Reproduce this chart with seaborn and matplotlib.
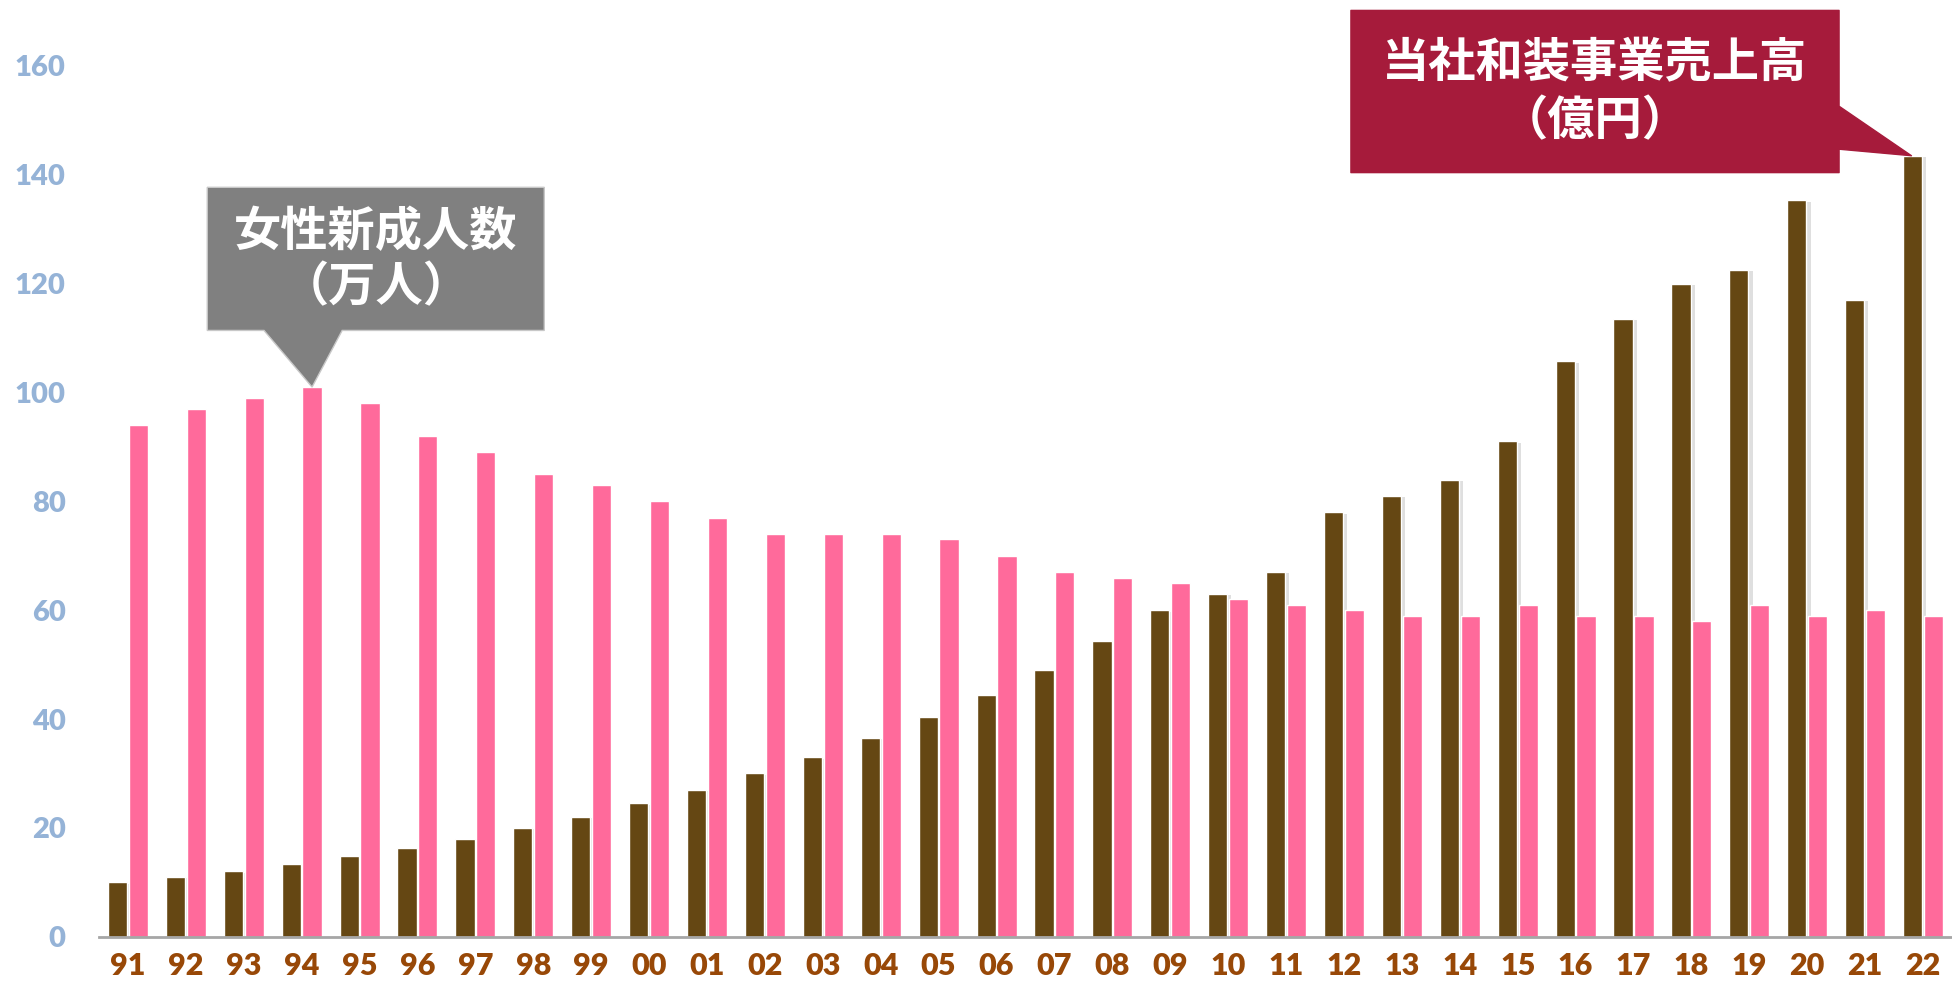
import pandas as pd
import seaborn as sns
import matplotlib.pyplot as plt
import matplotlib.patheffects as pe
from matplotlib.patches import Polygon

# 年度ラベル（1991〜2022）
years = ['91', '92', '93', '94', '95', '96', '97', '98', '99', '00',
         '01', '02', '03', '04', '05', '06', '07', '08', '09', '10',
         '11', '12', '13', '14', '15', '16', '17', '18', '19', '20',
         '21', '22']

# 当社和装事業売上高（億円）
sales = [10, 11, 12, 13.3, 14.8, 16.4, 18, 20, 22, 24.5,
         27, 30, 33, 36.5, 40.3, 44.5, 49, 54.3, 60, 63,
         67, 78, 81, 84, 91, 105.7, 113.5, 120, 122.5, 135.3,
         117, 143.5]

# 女性新成人数（万人）
women = [94, 97, 99, 101, 98, 92, 89, 85, 83, 80,
         77, 74, 74, 74, 73, 70, 67, 66, 65, 62,
         61, 60, 59, 59, 61, 59, 59, 58, 61, 59,
         60, 59]

series = ['sales', 'women']

df = pd.DataFrame({
    'year': years * 2,
    'series': [series[0]] * len(years) + [series[1]] * len(years),
    'value': sales + women,
})

BROWN = '#654713'
PINK = '#FF6A9B'
GREY_BOX = '#808080'
RED_BOX = '#A61B3B'
CJK = ['Noto Sans CJK JP', 'DejaVu Sans']

sns.set_theme(style='white')
plt.rcParams['font.family'] = ['Lato', 'DejaVu Sans']

fig = plt.figure(figsize=(19.52, 9.84), dpi=100)
ax = fig.add_axes([0.0507, 0.048, 0.9493, 0.885])

sns.barplot(data=df, x='year', y='value', hue='series', order=years,
            hue_order=series, palette=[BROWN, PINK], width=0.72, gap=0.08,
            saturation=1, legend=False, ax=ax)

# 茶色の棒に影をつける
for bar in ax.containers[0]:
    bar.set_path_effects([pe.SimplePatchShadow(offset=(3, -1), alpha=0.25,
                                               shadow_rgbFace='#808080'),
                          pe.Normal()])

ax.set_ylim(0, 160)
ax.set_xlim(-0.5, len(years) - 0.5)
ax.set_yticks(range(0, 161, 20))
ax.set_xlabel('')
ax.set_ylabel('')
ax.tick_params(axis='y', length=0, pad=24, labelsize=21, labelcolor='#95B3D7')
ax.tick_params(axis='x', length=0, pad=11, labelsize=22, labelcolor='#984807')
for lbl in ax.get_yticklabels() + ax.get_xticklabels():
    lbl.set_fontweight('heavy')

sns.despine(ax=ax, left=True)
ax.spines['bottom'].set_color('#A6A6A6')
ax.spines['bottom'].set_linewidth(2)
ax.grid(False)

# 吹き出し：女性新成人数
i94 = years.index('94')
grey_pts = [(1.37, 137.7), (7.19, 137.7), (7.19, 111.4), (3.7, 111.4),
            (i94 + 0.18, women[i94]), (2.35, 111.4), (1.37, 111.4)]
ax.add_patch(Polygon(grey_pts, closed=True, facecolor=GREY_BOX,
                     edgecolor='#C8C8C8', linewidth=1, clip_on=False, zorder=5))
ax.text(4.28, 129.4, '女性新成人数', ha='center', va='center', color='white',
        fontsize=34, fontweight='bold', family=CJK, zorder=6)
ax.text(4.28, 119.3, '（万人）', ha='center', va='center', color='white',
        fontsize=34, fontweight='bold', family=CJK, zorder=6)

# 吹き出し：当社和装事業売上高
i22 = years.index('22')
red_pts = [(21.12, 170.2), (29.55, 170.2), (29.55, 152.6),
           (i22 - 0.2, sales[i22]), (29.55, 144.7), (29.55, 140.4),
           (21.12, 140.4)]
ax.add_patch(Polygon(red_pts, closed=True, facecolor=RED_BOX,
                     edgecolor=RED_BOX, linewidth=1, joinstyle='round',
                     clip_on=False, zorder=5))
ax.text(25.33, 160.4, '当社和装事業売上高', ha='center', va='center',
        color='white', fontsize=34, fontweight='bold', family=CJK, zorder=6)
ax.text(25.33, 149.8, '（億円）', ha='center', va='center', color='white',
        fontsize=34, fontweight='bold', family=CJK, zorder=6)

fig.savefig('out.png', dpi=100)
